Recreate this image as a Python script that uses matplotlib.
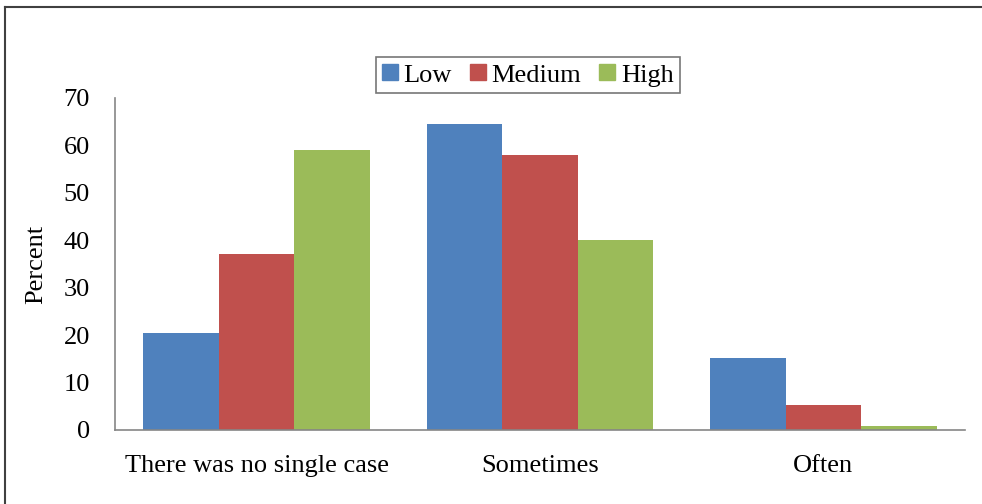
import matplotlib
matplotlib.use("Agg")
import numpy as np
import matplotlib.pyplot as plt
from matplotlib.lines import Line2D

categories = ["There was no single case", "Sometimes", "Often"]
series_names = ["Low", "Medium", "High"]
low = [20.5, 64.6, 15.1]
medium = [37.2, 57.9, 5.2]
high = [59.1, 40.1, 0.9]
y_ticks = [0, 10, 20, 30, 40, 50, 60, 70]

colors = ["#4F81BD", "#C0504D", "#9BBB59"]

plt.rcParams["font.family"] = ["Liberation Serif", "DejaVu Serif"]

fig = plt.figure(figsize=(9.82, 5.04), dpi=100)
ax = fig.add_axes([115 / 982, 74 / 504, 850 / 982, 332 / 504])

x = np.arange(len(categories))
width = 0.8 / 3
for i, (vals, name) in enumerate(zip([low, medium, high], series_names)):
    ax.bar(x + (i - 1) * width, vals, width, color=colors[i], label=name, zorder=2)

ax.set_xlim(-0.5, len(categories) - 0.5)
ax.set_ylim(0, 70)
ax.set_yticks(y_ticks)
ax.set_xticks(x)
ax.set_xticklabels(categories)
ax.tick_params(axis="both", length=0, labelsize=19)
ax.tick_params(axis="y", pad=18)
ax.tick_params(axis="x", pad=18)

for s in ["top", "right"]:
    ax.spines[s].set_visible(False)
for s in ["left", "bottom"]:
    ax.spines[s].set_color("#868686")
    ax.spines[s].set_linewidth(1.2)

ax.set_ylabel("Percent", fontsize=19, labelpad=12)

handles = [Line2D([0], [0], marker="s", linestyle="none", markersize=11,
                  markerfacecolor=c, markeredgecolor=c) for c in colors]
leg = fig.legend(handles, series_names, loc="center", bbox_to_anchor=(528 / 982, 1 - 75 / 504),
                 ncol=3, fontsize=19, frameon=True, fancybox=False,
                 handlelength=0.55, handletextpad=0.25, columnspacing=0.7,
                 borderpad=0.25)
leg.get_frame().set_edgecolor("#555555")
leg.get_frame().set_linewidth(1.2)

# outer chart border (only left and top are inside the picture)
fig.add_artist(Line2D([5 / 982, 5 / 982], [0, 1 - 7 / 504], color="#404040", lw=1.5, transform=fig.transFigure))
fig.add_artist(Line2D([5 / 982, 1], [1 - 7 / 504, 1 - 7 / 504], color="#404040", lw=1.5, transform=fig.transFigure))

fig.savefig("out.png", dpi=100)
